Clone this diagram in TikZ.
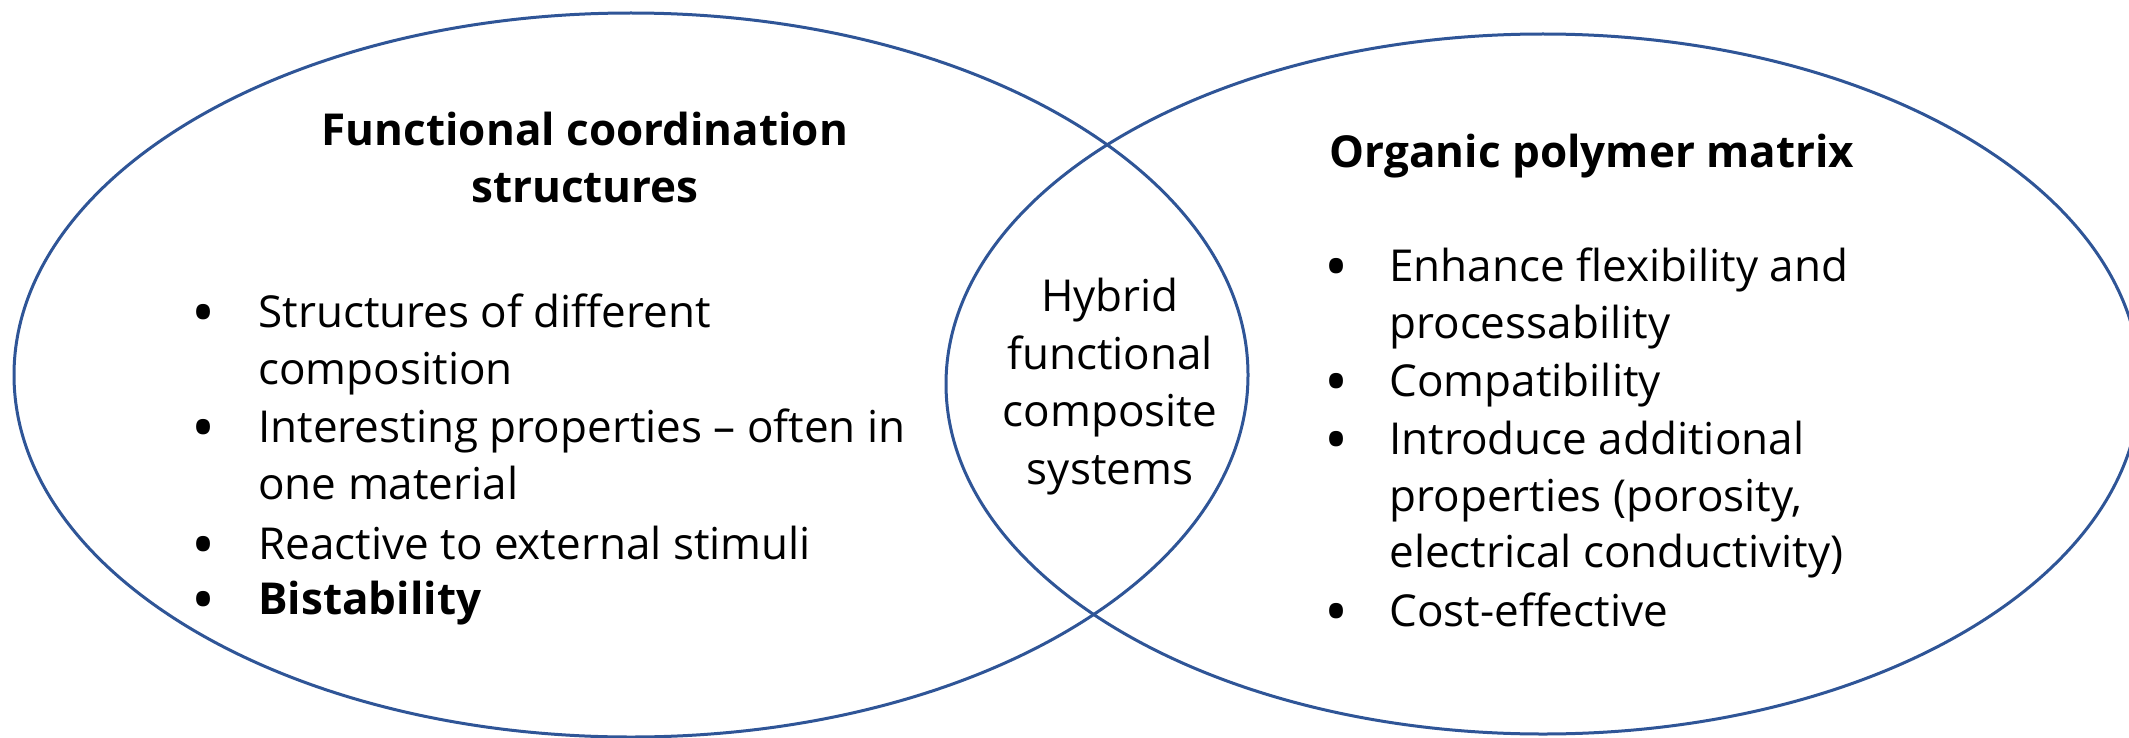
\documentclass[tikz,border=0pt]{standalone}
\usepackage{fontspec}
\setmainfont{Open Sans}
\definecolor{vennblue}{RGB}{47,85,151}
\begin{document}
\begin{tikzpicture}[x=0.5pt,y=-0.5pt,
  venn/.style={draw=vennblue, line width=1.5pt},
  txt/.style={inner sep=0pt, font=\fontsize{22}{28.75}\selectfont},
  ttl/.style={inner sep=0pt, anchor=base, font=\fontsize{22}{28.75}\selectfont\bfseries},
  ln/.style={txt, anchor=base west},
  bul/.style={inner sep=0pt, anchor=base, yshift=-4pt, font=\fontsize{32}{36}\selectfont},
  mid/.style={txt, anchor=base}]
\useasboundingbox (0,0) rectangle (2129,738);
\fill[white] (0,0) rectangle (2129,738);
\draw[venn] (631,375) ellipse [x radius=617, y radius=362];
\draw[venn] (1543,384) ellipse [x radius=597, y radius=350];
% left title
\node[ttl] (lt1) at (585,146) {Functional coordination};
\node[ttl] (lt2) at (585,202) {structures};
% left bullets
\node[bul] (lb1) at (204,327) {•};
\node[ln] (l1a) at (258,327) {Structures of different};
\node[ln] (l1b) at (258,384) {composition};
\node[bul] (lb2) at (204,442) {•};
\node[ln] (l2a) at (258,442) {Interesting properties – often in};
\node[ln] (l2b) at (258,499) {one material};
\node[bul] (lb3) at (204,559) {•};
\node[ln] (l3a) at (258,559) {Reactive to external stimuli};
\node[bul] (lb4) at (204,614) {•};
\node[ln, font=\fontsize{22}{28.75}\selectfont\bfseries] (l4a) at (258,614) {Bistability};
% middle
\node[mid] (m1) at (1110,311) {Hybrid};
\node[mid] (m2) at (1110,369) {functional};
\node[mid] (m3) at (1110,426) {composite};
\node[mid] (m4) at (1110,484) {systems};
% right title
\node[ttl] (rt1) at (1592,167) {Organic polymer matrix};
% right bullets
\node[bul] (rb1) at (1337,281) {•};
\node[ln] (r1a) at (1389,281) {Enhance flexibility and};
\node[ln] (r1b) at (1389,338) {processability};
\node[bul] (rb2) at (1337,396) {•};
\node[ln] (r2a) at (1389,396) {Compatibility};
\node[bul] (rb3) at (1337,454) {•};
\node[ln] (r3a) at (1389,454) {Introduce additional};
\node[ln] (r3b) at (1389,511) {properties (porosity,};
\node[ln] (r3c) at (1389,567) {electrical conductivity)};
\node[bul] (rb4) at (1337,626) {•};
\node[ln] (r4a) at (1389,626) {Cost-effective};
\end{tikzpicture}
\end{document}
